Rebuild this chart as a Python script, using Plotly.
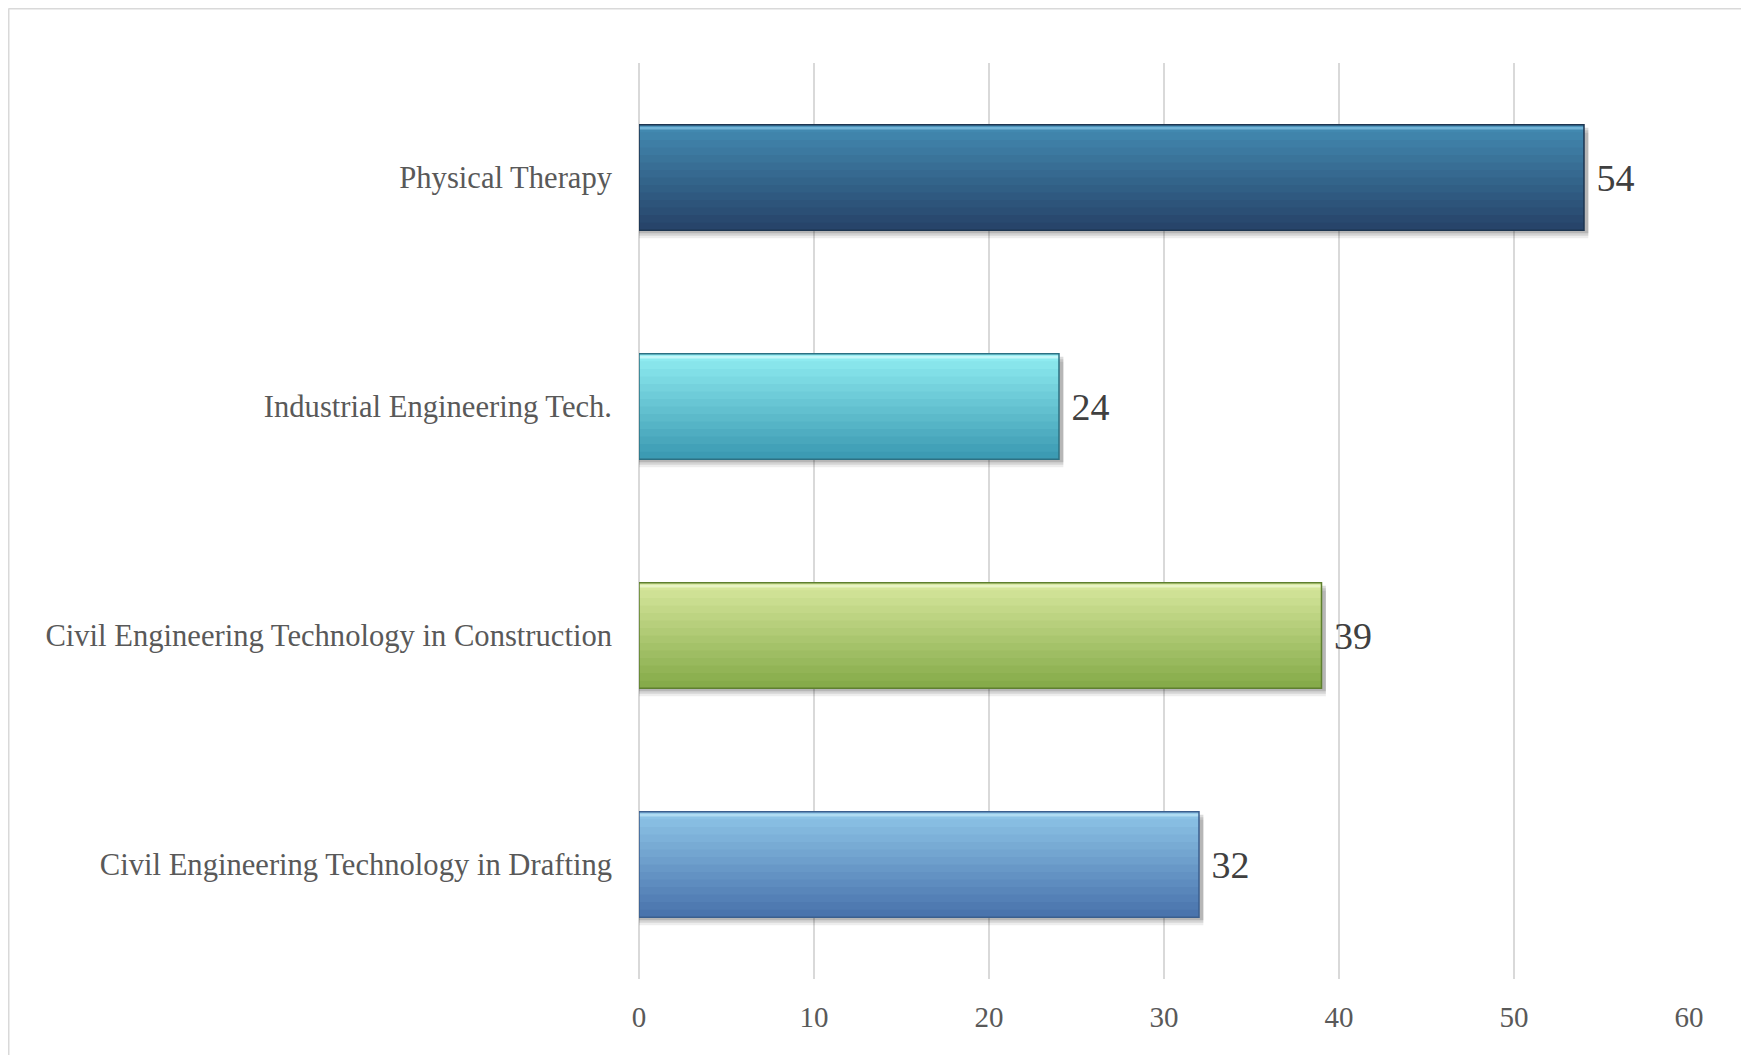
import plotly.graph_objects as go

# categories listed bottom to top, as they appear on the chart
programs = [
    "Civil Engineering Technology in Drafting",
    "Civil Engineering Technology in Construction",
    "Industrial Engineering Tech.",
    "Physical Therapy",
]
counts = [32, 39, 24, 54]
x_ticks = [0, 10, 20, 30, 40, 50, 60]

# (light top, dark bottom, edge) per bar
top_colors = ["#8cc3e6", "#d5e69b", "#8eebf0", "#4289b0"]
bottom_colors = ["#4a74ad", "#86ab4a", "#3c9bb3", "#27446a"]
edge_colors = ["#3b5f8e", "#5e7f2f", "#2c7183", "#1d3550"]
shine_colors = ["#b0dcf2", "#e8f3c4", "#c2f7f9", "#72b3d6"]

BAR_W = 0.46
N_BANDS = 14

W, H = 1749, 1055
L, R, T, B = 631, 68, 55, 84


def mix(c1, c2, t):
    a = [int(c1[i:i + 2], 16) for i in (1, 3, 5)]
    b = [int(c2[i:i + 2], 16) for i in (1, 3, 5)]
    return "#" + "".join(f"{round(a[k] + (b[k] - a[k]) * t):02x}" for k in range(3))


fig = go.Figure()

# soft drop shadow under each bar
for off, alpha in [(0.035, 0.07), (0.024, 0.10), (0.013, 0.14)]:
    fig.add_trace(go.Bar(
        y=programs, x=[c + 0.25 for c in counts], orientation="h",
        width=BAR_W, offset=-BAR_W / 2 - off,
        marker=dict(color=f"rgba(0,0,0,{alpha})", line=dict(width=0)),
        hoverinfo="skip", showlegend=False,
    ))

# vertical gradient built from thin bands (bottom dark -> top light)
band = BAR_W / N_BANDS
for k in range(N_BANDS):
    t = k / (N_BANDS - 1)
    fig.add_trace(go.Bar(
        y=programs, x=counts, orientation="h",
        width=band * 1.08, offset=-BAR_W / 2 + k * band,
        marker=dict(color=[mix(b, tp, t) for b, tp in zip(bottom_colors, top_colors)],
                    line=dict(width=0)),
        hoverinfo="skip", showlegend=False,
    ))

# thin shine along the top edge
fig.add_trace(go.Bar(
    y=programs, x=counts, orientation="h",
    width=0.012, offset=BAR_W / 2 - 0.02,
    marker=dict(color=shine_colors, line=dict(width=0)),
    hoverinfo="skip", showlegend=False,
))

# outline + value labels
fig.add_trace(go.Bar(
    y=programs, x=counts, orientation="h",
    width=BAR_W,
    marker=dict(color="rgba(0,0,0,0)", line=dict(color=edge_colors, width=1.5)),
    text=[f" {c}" for c in counts], textposition="outside",
    textfont=dict(family="Liberation Serif", size=38, color="#404040"),
    cliponaxis=False, showlegend=False,
))

pw, ph = W - L - R, H - T - B
edge_x = (0.5 - L) / pw
edge_y = (H - B - 0.5) / ph

fig.update_layout(
    width=W, height=H,
    margin=dict(l=L, r=R, t=T, b=B),
    paper_bgcolor="white", plot_bgcolor="white",
    barmode="overlay",
    showlegend=False,
    xaxis=dict(
        range=[0, 60], tickvals=x_ticks, showgrid=True,
        gridcolor="#d9d9d9", gridwidth=1.5,
        zeroline=True, zerolinecolor="#d9d9d9", zerolinewidth=1.5,
        showline=False, ticks="", ticklabelstandoff=18,
        tickfont=dict(family="Liberation Serif", size=29, color="#595959"),
    ),
    yaxis=dict(
        categoryorder="array", categoryarray=programs,
        showgrid=False, zeroline=False, showline=False,
        ticks="", ticklabelstandoff=26,
        tickfont=dict(family="Liberation Serif", size=30.6, color="#595959"),
    ),
    shapes=[
        dict(type="line", xref="paper", yref="paper",
             x0=edge_x, x1=1.1, y0=edge_y, y1=edge_y,
             line=dict(color="#d9d9d9", width=2)),
        dict(type="line", xref="paper", yref="paper",
             x0=edge_x, x1=edge_x, y0=-0.2, y1=edge_y,
             line=dict(color="#d9d9d9", width=2)),
    ],
)

fig.write_html("out.html")
